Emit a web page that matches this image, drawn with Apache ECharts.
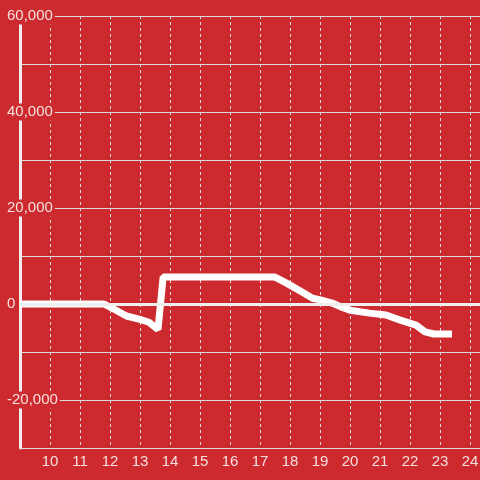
<!DOCTYPE html>
<html>
<head>
<meta charset="utf-8">
<script src="https://cdn.jsdelivr.net/npm/echarts@6/dist/echarts.min.js"></script>
<style>
  html, body { margin: 0; padding: 0; background: #cc2a2e; }
  #main { width: 480px; height: 480px; }
</style>
</head>
<body>
<div id="main"></div>
<script>
// hour of day
var hours = [9, 11.8, 12.2, 12.55, 13.0, 13.3, 13.6, 13.77, 17.5, 17.9, 18.4, 18.75, 19.05, 19.4, 19.7, 20.0, 20.65, 21.2, 21.65, 22.2, 22.5, 22.8, 23.4];
// value at that hour
var values = [0, 0, -1300, -2500, -3200, -3800, -5300, 5600, 5600, 4300, 2500, 1200, 800, 200, -600, -1300, -1900, -2300, -3300, -4400, -5800, -6250, -6250];

var bg = '#cc2a2e';
var textColor = '#f5dede';
var gridColor = '#dddddd';

var points = hours.map(function (h, i) { return [h, values[i]]; });

var chart = echarts.init(document.getElementById('main'));
var option = {
  backgroundColor: bg,
  animation: false,
  grid: { left: 20, right: 0, top: 16, bottom: 32, outerBoundsMode: 'none', containLabel: false },
  xAxis: {
    type: 'value',
    min: 9,
    max: 24.333,
    interval: 1,
    axisLine: { show: true, onZero: false, lineStyle: { color: gridColor, width: 1 } },
    axisTick: { show: false },
    axisLabel: {
      color: textColor, fontSize: 15, fontFamily: 'Liberation Sans, Arial, sans-serif',
      margin: 6, showMinLabel: false, showMaxLabel: false, hideOverlap: false
    },
    splitLine: { show: true, lineStyle: { color: gridColor, width: 1, type: [3, 3] } }
  },
  yAxis: {
    type: 'value',
    min: -30000,
    max: 60000,
    interval: 10000,
    axisLine: { show: true, lineStyle: { color: '#eeeeee', width: 3 } },
    axisTick: { show: false },
    axisLabel: {
      color: textColor, fontSize: 15, fontFamily: 'Liberation Sans, Arial, sans-serif',
      margin: 14,
      align: 'left',
      backgroundColor: bg,
      padding: [1, 2, 1, 1],
      lineHeight: 15,
      formatter: function (v) {
        if (v % 20000 !== 0) return '';
        return v.toLocaleString('en-US');
      }
    },
    splitLine: { show: true, lineStyle: { color: gridColor, width: 1 } }
  },
  series: [{
    type: 'line',
    data: points,
    showSymbol: false,
    lineStyle: { color: '#ffffff', width: 7 },
    markLine: {
      silent: true,
      symbol: ['none', 'none'],
      label: { show: false },
      lineStyle: { color: '#eeeeee', width: 3, type: 'solid' },
      data: [{ yAxis: 0 }]
    }
  }]
};
chart.setOption(option);
</script>
</body>
</html>
